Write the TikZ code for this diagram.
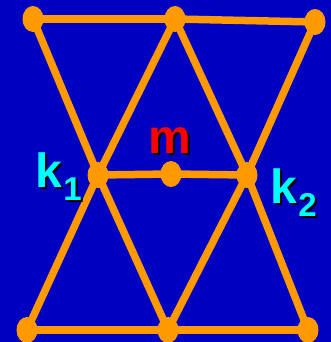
\documentclass[tikz,border=0pt]{standalone}
\usepackage{fontspec}
\setmainfont{Liberation Sans}
\usetikzlibrary{shapes.geometric}
\definecolor{bg}{HTML}{0000C0}
\definecolor{og}{HTML}{FF9900}
\definecolor{cy}{HTML}{00FFFF}
\definecolor{rd}{HTML}{FF0000}
\tikzset{
  vert/.style={ellipse,fill=og,inner sep=0pt,minimum width=21pt,minimum height=26pt},
  edge/.style={draw=og,line width=7.5pt},
  lbl/.style={inner sep=0pt,anchor=base west,font=\bfseries},
}
\newcommand{\bigk}[1]{{\fontsize{48}{48}\selectfont k}\kern1.5pt\raisebox{-13pt}{\fontsize{33}{33}\selectfont #1}}
\newcommand{\shadowed}[2]{\makebox[0pt][l]{\kern2pt\raisebox{-2pt}{\color{black}#2}}{\color{#1}#2}}
\begin{document}
\begin{tikzpicture}[x=1pt,y=-1pt]
\fill[bg] (0,0) rectangle (331,342);
\useasboundingbox (0,0) rectangle (331,342);
\coordinate (ptl) at (33,19);
\coordinate (ptm) at (175,19);
\coordinate (ptr) at (315,22);
\coordinate (pk1) at (98,175);
\coordinate (pm) at (171,174);
\coordinate (pk2) at (247,175);
\coordinate (pbl) at (27,330);
\coordinate (pbm) at (168,330);
\coordinate (pbr) at (308,330);
\foreach \a/\b in {ptl/ptm,ptm/ptr,pk1/pm,pm/pk2,pbl/pbm,pbm/pbr,ptl/pk1,pk1/pbm,ptm/pk1,pk1/pbl,ptm/pk2,pk2/pbr,ptr/pk2,pk2/pbm}
  \draw[edge] (\a) -- (\b);
\foreach \p in {tl,tm,tr,k1,m,k2,bl,bm,br}
  \node[vert] (\p) at (p\p) {};
% labels with drop shadows
\node[lbl] (k1t) at (35,187) {\shadowed{cy}{\bigk{1}}};
\node[lbl] (k2t) at (270,203) {\shadowed{cy}{\bigk{2}}};
\node[lbl,font=\bfseries\fontsize{48}{48}\selectfont] (mt) at (148,153) {\shadowed{rd}{m}};
\end{tikzpicture}
\end{document}
